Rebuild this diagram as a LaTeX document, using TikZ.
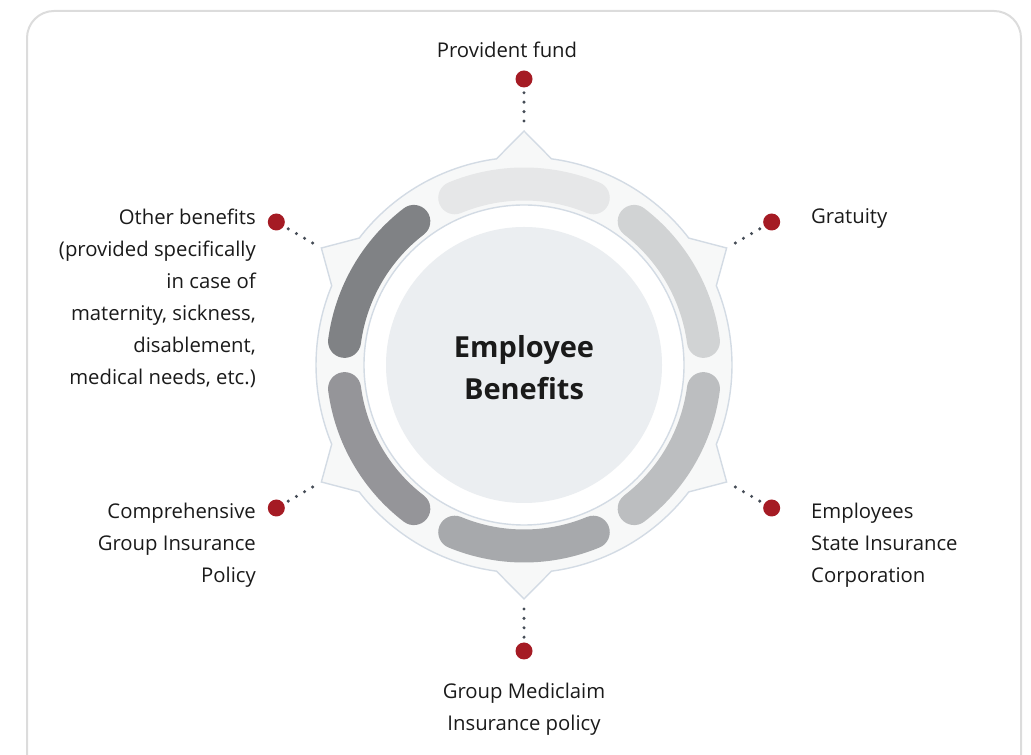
\documentclass[tikz,border=0pt]{standalone}
\usepackage{fontspec}
\setmainfont{Open Sans}
\definecolor{frame}{HTML}{DCDCDC}
\definecolor{starfill}{HTML}{F7F8F8}
\definecolor{starline}{HTML}{D3DBE4}
\definecolor{corefill}{HTML}{EBEEF1}
\definecolor{dotred}{HTML}{A51B24}
\definecolor{dotgray}{HTML}{454C56}
\definecolor{txt}{HTML}{1A1A1A}
\definecolor{sA}{HTML}{E6E7E8}
\definecolor{sB}{HTML}{D1D3D4}
\definecolor{sC}{HTML}{BCBEC0}
\definecolor{sD}{HTML}{A7A9AC}
\definecolor{sE}{HTML}{959599}
\definecolor{sF}{HTML}{808285}
\begin{document}
\begin{tikzpicture}[x=1pt,y=1pt,
  lbl/.style={font=\fontsize{20.3}{32}\selectfont, text=txt, inner sep=0pt},
  reddot/.style={circle, fill=dotred, minimum size=17pt, inner sep=0pt},
  dotline/.style={dotgray, line width=3.4pt, line cap=round, dash pattern=on 0pt off 9.4pt, shorten <=10pt, shorten >=5pt},
  seg/.style={line width=33pt, line cap=round}]
\useasboundingbox (0,0) rectangle (1031,755);
\clip (0,0) rectangle (1031,755);
% frame
\draw[frame, line width=2pt, rounded corners=27pt] (27,-40) rectangle (1021,744);
\coordinate (c) at (524,390);
\begin{scope}[shift={(c)}]
  % star outline
  \draw[starline, fill=starfill, line width=1.4pt, line join=miter]
    (97.6:208) \foreach \a in {90,30,-30,-90,-150,-210} {
      -- (\a:234) -- (\a-7.6:208) arc[start angle=\a-7.6, end angle=\a-52.4, radius=208] } -- cycle;
  % segments
  \foreach \a/\col in {90/sA,30/sB,-30/sC,-90/sD,-150/sE,150/sF} {
    \draw[seg, \col] (\a+22.5:181) arc[start angle=\a+22.5, end angle=\a-22.5, radius=181];
  }
  % inner ring
  \draw[starline, fill=white, line width=1.4pt] (0,0) circle[radius=160];
  \fill[corefill] (0,0) circle[radius=138];
  % tips
  \coordinate (t1) at (90:234);
  \coordinate (t2) at (30:234);
  \coordinate (t3) at (-30:234);
  \coordinate (t4) at (-90:234);
  \coordinate (t5) at (-150:234);
  \coordinate (t6) at (150:234);
  \node[reddot] (d1) at (90:286) {};
  \node[reddot] (d2) at (30:286) {};
  \node[reddot] (d3) at (-30:286) {};
  \node[reddot] (d4) at (-90:286) {};
  \node[reddot] (d5) at (-150:286) {};
  \node[reddot] (d6) at (150:286) {};
\end{scope}
\foreach \i in {1,...,6} { \draw[dotline] (t\i) -- (d\i); }
% center title
\node[font=\fontsize{29}{42}\selectfont\bfseries, text=txt, align=center] (title) at (524,387) {Employee\\Benefits};
% labels
\node[lbl, anchor=base] (l1) at (507,697) {Provident fund};
\node[lbl, anchor=base west] (l2) at (811,531) {Gratuity};
\node[lbl, anchor=north west, align=left] (l3) at (811,252) {Employees\\State Insurance\\Corporation};
\node[lbl, anchor=north, align=center] (l4) at (524,72) {Group Mediclaim\\Insurance policy};
\node[lbl, anchor=north east, align=right] (l5) at (256,252) {Comprehensive\\Group Insurance\\Policy};
\node[lbl, anchor=north east, align=right] (l6) at (256,546) {Other benefits\\(provided specifically\\in case of\\maternity, sickness,\\disablement,\\medical needs, etc.)};
\end{tikzpicture}
\end{document}
